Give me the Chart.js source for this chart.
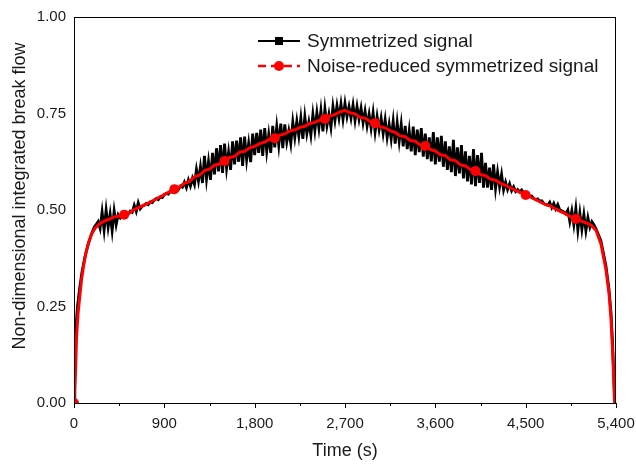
<!DOCTYPE html>
<html><head><meta charset="utf-8">
<script src="https://cdn.jsdelivr.net/npm/chart.js@4.4.1/dist/chart.umd.min.js"></script>
<style>html,body{margin:0;padding:0;background:#fff}#wrap{width:636px;height:467px;position:relative}</style>
</head><body><div id="wrap"><canvas id="c"></canvas></div>
<script>
// ---- data ----
const xTicks = [0, 900, 1800, 2700, 3600, 4500, 5400];
const xMinorTicks = [450, 1350, 2250, 3150, 4050, 4950];
const yTicks = [0, 0.25, 0.5, 0.75, 1.0];
const seriesNames = ['Symmetrized signal', 'Noise-reduced symmetrized signal'];
const xTitle = 'Time (s)';
const yTitle = 'Non-dimensional integrated break flow';

const blackRiseTime  = [0, 8, 18, 35, 55, 80, 110, 140, 170];
const blackRiseValue = [0, 0.12, 0.19, 0.25, 0.295, 0.34, 0.38, 0.41, 0.435];
const blackNoiseStart = 200, blackNoiseStep = 20;
const blackNoiseValue = [
  0.455,0.462,0.470,0.452,0.495, 0.448,0.500,0.455,0.490,0.446,
  0.498,0.462,0.488,0.480,0.490, 0.486,0.492,0.489,0.497,0.494,
  0.512,0.496,0.519,0.503,0.510, 0.512,0.517,0.514,0.521,0.519,
  0.526,0.530,0.527,0.534,0.532, 0.540,0.543,0.541,0.548,0.546,
  0.553,0.558,0.553,0.562,0.559, 0.572,0.558,0.578,0.562,0.582,
  0.566,0.605,0.575,0.612,0.570, 0.640,0.580,0.625,0.578,0.648,
  0.592,0.660,0.600,0.668,0.596, 0.672,0.608,0.650,0.604,0.678,
  0.618,0.680,0.625,0.688,0.614, 0.690,0.630,0.672,0.624,0.698,
  0.642,0.700,0.648,0.708,0.640, 0.712,0.652,0.695,0.648,0.718,
  0.662,0.716,0.668,0.724,0.660, 0.722,0.676,0.705,0.672,0.728,
  0.688,0.730,0.692,0.738,0.684, 0.742,0.698,0.728,0.694,0.748,
  0.706,0.752,0.712,0.758,0.704, 0.762,0.718,0.748,0.714,0.768,
  0.732,0.770,0.738,0.775,0.735, 0.776,0.742,0.768,0.738,0.772,
  0.732,0.768,0.735,0.764,0.726, 0.756,0.718,0.748,0.712,0.752,
  0.702,0.742,0.708,0.738,0.698, 0.734,0.688,0.722,0.684,0.730,
  0.672,0.726,0.678,0.722,0.665, 0.718,0.658,0.705,0.652,0.716,
  0.642,0.708,0.650,0.712,0.638, 0.698,0.632,0.688,0.626,0.702,
  0.618,0.688,0.625,0.692,0.612, 0.678,0.604,0.665,0.598,0.682,
  0.588,0.662,0.595,0.668,0.582, 0.652,0.574,0.640,0.566,0.658,
  0.562,0.642,0.570,0.648,0.558, 0.622,0.558,0.610,0.552,0.618,
  0.556,0.598,0.560,0.592,0.552, 0.572,0.553,0.568,0.550,0.560,
  0.548,0.553,0.547,0.552,0.544, 0.538,0.541,0.535,0.536,0.530,
  0.527,0.529,0.523,0.524,0.517, 0.514,0.512,0.520,0.506,0.517,
  0.503,0.514,0.500,0.498,0.495, 0.490,0.500,0.470,0.498,0.462,
  0.504,0.448,0.492,0.450,0.488, 0.446,0.480,0.455,0.470,0.462
];
const blackFallTime  = [5200, 5250, 5300, 5330, 5350, 5365, 5375, 5382, 5388];
const blackFallValue = [0.452, 0.42, 0.355, 0.295, 0.235, 0.16, 0.09, 0.04, 0];

const redTime = [0,15,25,40,55,75,95,120,145,175,210,250,300,350,400,450,500,550,600,650,700,750,800,850,900,950,
  1000,1050,1100,1150,1200,1250,1300,1350,1400,1450,1500,1550,1600,1650,1700,1750,1800,1850,1900,1950,
  2000,2050,2100,2150,2200,2250,2300,2350,2400,2450,2500,2550,2600,2650,2700,2750,2800,2850,2900,2950,
  3000,3050,3100,3150,3200,3250,3300,3350,3400,3450,3500,3550,3600,3650,3700,3750,3800,3850,3900,3950,
  4000,4050,4100,4150,4200,4250,4300,4350,4400,4450,4500,4550,4600,4650,4700,4750,4800,4850,4900,4950,
  5000,5050,5100,5150,5200,5250,5300,5330,5350,5365,5375,5382,5386];
const redValue = [0,0.08,0.17,0.23,0.27,0.32,0.355,0.39,0.415,0.437,0.453,0.463,0.471,0.476,0.482,0.484,0.488,0.492,0.501,0.507,0.513,0.519,0.526,0.533,0.540,0.547,
  0.554,0.560,0.569,0.574,0.586,0.590,0.602,0.606,0.616,0.619,0.627,0.636,0.639,0.650,0.652,0.661,0.665,0.672,0.676,0.684,
  0.686,0.694,0.697,0.705,0.707,0.714,0.717,0.724,0.727,0.733,0.736,0.744,0.747,0.754,0.758,0.752,0.749,0.740,0.738,0.729,
  0.725,0.716,0.713,0.705,0.701,0.692,0.690,0.680,0.678,0.668,0.666,0.657,0.653,0.643,0.641,0.630,0.628,0.617,0.614,0.605,
  0.601,0.592,0.589,0.580,0.577,0.569,0.564,0.557,0.551,0.545,0.539,0.533,0.527,0.520,0.514,0.510,0.502,0.496,0.490,0.482,
  0.477,0.472,0.467,0.461,0.448,0.412,0.345,0.285,0.22,0.14,0.08,0.03,0];
const markerEvery = 500;

// ---- build points ----
const blackPts = [];
blackRiseTime.forEach((t, i) => blackPts.push({x: t, y: blackRiseValue[i]}));
blackNoiseValue.forEach((v, i) => blackPts.push({x: blackNoiseStart + i * blackNoiseStep, y: v}));
blackFallTime.forEach((t, i) => blackPts.push({x: t, y: blackFallValue[i]}));
const redPts = redTime.map((t, i) => ({x: t, y: redValue[i]}));

const FONT = "'Liberation Sans', Arial, Helvetica, sans-serif";
const TXT = '#1a1a1a';

const decor = {
  id: 'decor',
  afterDraw(chart) {
    const ctx = chart.ctx, a = chart.chartArea;
    const xs = chart.scales.x;
    ctx.save();
    ctx.strokeStyle = '#000';
    ctx.lineWidth = 1;
    ctx.strokeRect(a.left + 0.5, a.top + 0.5, a.right - a.left - 1, a.bottom - a.top);
    ctx.beginPath();
    xTicks.forEach(v => { const p = Math.round(xs.getPixelForValue(v)) + 0.5; ctx.moveTo(p, a.bottom); ctx.lineTo(p, a.bottom + 5); });
    xMinorTicks.forEach(v => { const p = Math.round(xs.getPixelForValue(v)) + 0.5; ctx.moveTo(p, a.bottom); ctx.lineTo(p, a.bottom + 3); });
    ctx.stroke();
    // axis titles
    ctx.fillStyle = TXT;
    ctx.font = '18px ' + FONT;
    ctx.textAlign = 'center';
    ctx.textBaseline = 'middle';
    ctx.fillText(xTitle, (a.left + a.right) / 2, 451);
    ctx.save();
    ctx.translate(20, 196);
    ctx.rotate(-Math.PI / 2);
    ctx.fillText(yTitle, 0, 0);
    ctx.restore();
    // legend
    const lx0 = 258, lx1 = 300, mx = 279, tx = 307;
    const rows = [41, 66];
    ctx.font = '19px ' + FONT;
    ctx.textAlign = 'left';
    ctx.fillStyle = TXT;
    ctx.fillText(seriesNames[0], tx, rows[0] + 1);
    ctx.fillText(seriesNames[1], tx, rows[1] + 1);
    ctx.strokeStyle = '#000'; ctx.lineWidth = 2;
    ctx.beginPath(); ctx.moveTo(lx0, rows[0]); ctx.lineTo(lx1, rows[0]); ctx.stroke();
    ctx.fillStyle = '#000'; ctx.fillRect(mx - 4, rows[0] - 4, 8, 8);
    ctx.strokeStyle = '#ff0000'; ctx.lineWidth = 2.5;
    ctx.setLineDash([8, 5]);
    ctx.beginPath(); ctx.moveTo(lx0, rows[1]); ctx.lineTo(lx1, rows[1]); ctx.stroke();
    ctx.setLineDash([]);
    ctx.fillStyle = '#ff0000';
    ctx.beginPath(); ctx.arc(mx, rows[1], 5, 0, Math.PI * 2); ctx.fill();
    ctx.restore();
  }
};

new Chart(document.getElementById('c'), {
  type: 'line',
  data: {
    datasets: [
      { label: seriesNames[0], data: blackPts, borderColor: '#000', backgroundColor: '#000', borderWidth: 2.8,
        pointRadius: 0, tension: 0, order: 2, clip: 0 },
      { label: seriesNames[1], data: redPts, borderColor: '#ff0000', backgroundColor: '#ff0000', borderWidth: 3,
        pointRadius: c => (c.raw && c.raw.x % markerEvery === 0 ? 5 : 0), pointBorderWidth: 0,
        pointHoverRadius: 0, tension: 0, order: 1, clip: 0 }
    ]
  },
  options: {
    responsive: true, maintainAspectRatio: false, animation: false, devicePixelRatio: 1,
    layout: { padding: { left: 0, right: 20, top: 17, bottom: 0 } },
    plugins: { legend: { display: false }, tooltip: { enabled: false } },
    events: [],
    scales: {
      x: {
        type: 'linear', min: 0, max: 5400,
        afterFit(s) { s.height = 64; s.paddingLeft = 0; s.paddingRight = 0; },
        afterBuildTicks(s) { s.ticks = xTicks.map(v => ({ value: v })); },
        grid: { display: false, drawTicks: false }, border: { display: false },
        ticks: { padding: 12, color: TXT, font: { family: FONT, size: 15 }, maxRotation: 0, autoSkip: false,
          callback: v => Number(v).toLocaleString('en-US') }
      },
      y: {
        type: 'linear', min: 0, max: 1,
        afterFit(s) { s.width = 74; s.paddingTop = 0; s.paddingBottom = 0; },
        afterBuildTicks(s) { s.ticks = yTicks.map(v => ({ value: v })); },
        grid: { display: false, drawTicks: false }, border: { display: false },
        ticks: { padding: 8, color: TXT, font: { family: FONT, size: 15 }, autoSkip: false,
          callback: v => Number(v).toFixed(2) }
      }
    }
  },
  plugins: [decor]
});
</script>
</body></html>
